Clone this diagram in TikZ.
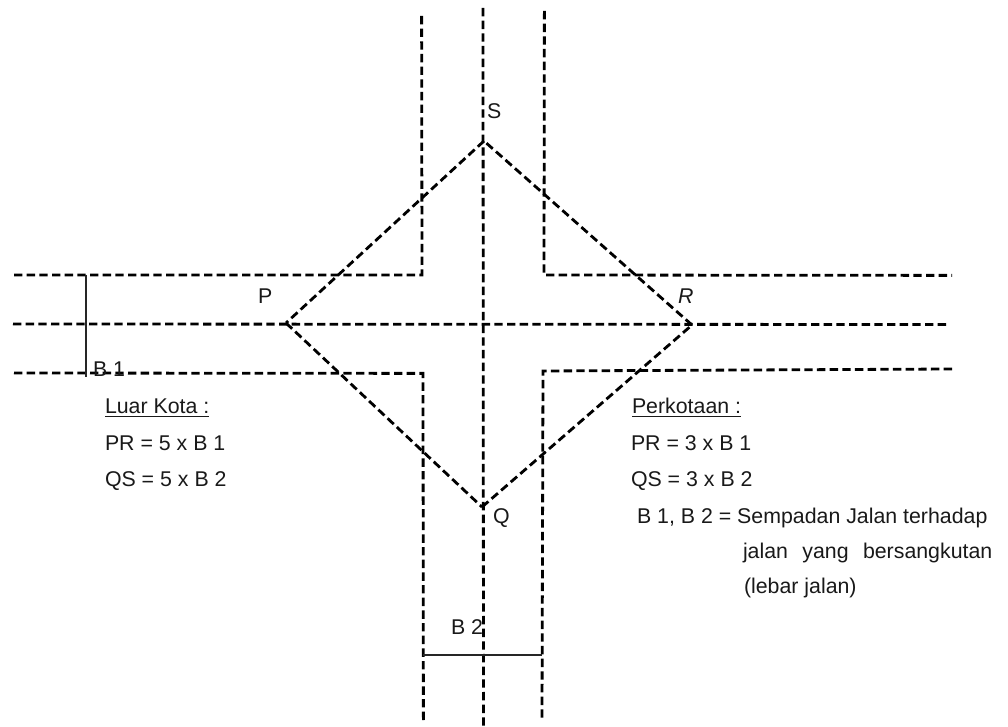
\documentclass[tikz,border=0pt]{standalone}
\usepackage{fontspec}
\setmainfont{Liberation Sans}
\tikzset{
  road/.style={line width=2.1pt,dash pattern=on 6.3pt off 3.2pt,line join=miter},
  dim/.style={line width=1.1pt,black!85},
  lbl/.style={anchor=base west,inner sep=0pt,outer sep=0pt,font=\fontsize{16}{18}\selectfont,text=black!90}
}
\begin{document}
\begin{tikzpicture}[x=0.75pt,y=-0.75pt]
\useasboundingbox (0,0) rectangle (1008,727);
% end points
\coordinate (TLa) at (14,275); \coordinate (TLb) at (422,275); \coordinate (TLc) at (421.6,12);
\coordinate (TRa) at (544.4,11); \coordinate (TRb) at (544,275); \coordinate (TRc) at (952,275.4);
\coordinate (BLa) at (14,373); \coordinate (BLb) at (423,373.4); \coordinate (BLc) at (423.4,720);
\coordinate (BRa) at (952,369); \coordinate (BRb) at (543,371); \coordinate (BRc) at (542,718);
\coordinate (VT) at (483,8); \coordinate (VB) at (483.5,727);
\coordinate (HL) at (13,324); \coordinate (HR) at (947,324.5);
\coordinate (cP) at (286,323); \coordinate (cS) at (484,141); \coordinate (cR) at (692,325); \coordinate (cQ) at (482,507);
\coordinate (B1a) at (86,275); \coordinate (B1b) at (86,377);
\coordinate (B2a) at (423,655); \coordinate (B2b) at (542,655);
% roads
\draw[road] (TLa) -- (TLb) -- (TLc);
\draw[road] (TRa) -- (TRb) -- (TRc);
\draw[road] (BLa) -- (BLb) -- (BLc);
\draw[road] (BRa) -- (BRb) -- (BRc);
\draw[road] (VT) -- (VB);
\draw[road] (HL) -- (HR);
% sight triangle
\draw[road] (cS) -- (cP);
\draw[road] (cP) -- (cQ);
\draw[road] (cQ) -- (cR);
\draw[road] (cR) -- (cS);
% dimensions
\draw[dim] (B1a) -- (B1b);
\draw[dim] (B2a) -- (B2b);
% labels
\node[lbl] (lP) at (258,304) {P};
\node[lbl] (lS) at (487,119) {S};
\node[lbl] (lR) at (678,304) {\itshape R};
\node[lbl] (lQ) at (493,523) {Q};
\node[lbl] (lB1) at (93,377) {B 1};
\node[lbl] (lB2) at (451,634) {B 2};
\node[lbl] (t1) at (105,414) {\underline{Luar Kota :}};
\node[lbl] (t2) at (105,451) {PR = 5 x B 1};
\node[lbl] (t3) at (105,487) {QS = 5 x B 2};
\node[lbl] (t4) at (632,414) {\underline{Perkotaan :}};
\node[lbl] (t5) at (631,451) {PR = 3 x B 1};
\node[lbl] (t6) at (631,487) {QS = 3 x B 2};
\node[lbl] (t7) at (637,523) {B 1, B 2 = Sempadan Jalan terhadap};
\node[lbl] (t8) at (743,559) {\makebox[187pt][s]{jalan yang bersangkutan}};
\node[lbl] (t9) at (744,594) {(lebar jalan)};
\end{tikzpicture}
\end{document}
